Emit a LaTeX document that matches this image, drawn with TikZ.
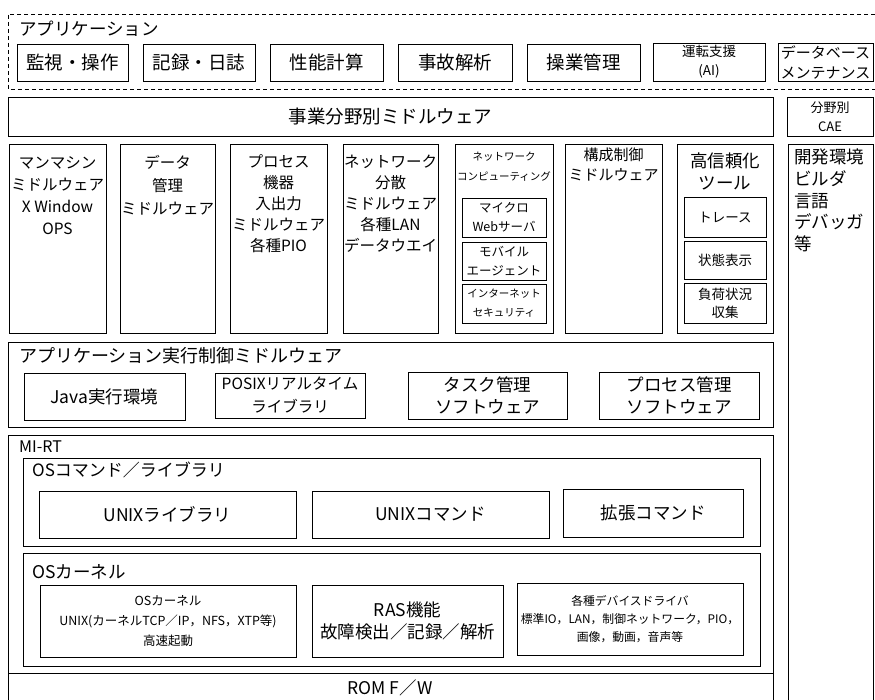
\documentclass[tikz,border=0pt]{standalone}
\usepackage{fontspec}
\setmainfont{Noto Sans CJK JP}
\newcommand\fs[2]{\fontsize{#1}{#2}\selectfont}
\newcommand\bx[6]{\node[box,minimum width={#4-#2},minimum height={#5-#3},font=#6] (#1) at ({(#2+#4)/2},{(#3+#5)/2})}
\begin{document}
\begin{tikzpicture}[x=1pt,y=-1pt,
 box/.style={draw=black,line width=0.7pt,inner sep=0pt,align=center},
 lbl/.style={inner sep=0pt,align=center},
 edge/.style={draw=black,line width=0.7pt},
 dsh/.style={draw=black,line width=0.7pt,dash pattern=on 4pt off 3pt}]
\useasboundingbox (0,0) rectangle (875,700);
\fill[white] (0,0) rectangle (875,700);

% application area (dashed)
\coordinate (d1) at (875,14); \coordinate (d2) at (8,14);
\coordinate (d3) at (8,89); \coordinate (d4) at (875,89);
\draw[dsh] (d1) -- (d2) -- (d3) -- (d4);
\node[lbl,anchor=west,font=\fs{17.5}{20}] (app) at (19,29) {アプリケーション};
\bx{a1}{17}{44}{128}{81}{\fs{18.5}{22}} {監視・操作};
\bx{a2}{143}{44}{255}{81}{\fs{18.5}{22}} {記録・日誌};
\bx{a3}{270}{44}{383}{81}{\fs{18.5}{22}} {性能計算};
\bx{a4}{398}{44}{512}{81}{\fs{18.5}{22}} {事故解析};
\bx{a5}{527}{44}{640}{81}{\fs{18.5}{22}} {操業管理};
\bx{a6}{653}{43}{765}{81}{\fs{13.5}{19}} {運転支援\\(AI)};
\bx{a7}{778}{43}{873}{81}{\fs{15}{20}} {データベース\\メンテナンス};

% sector middleware
\bx{biz}{8}{97}{773}{136}{\fs{18.5}{22}} {事業分野別ミドルウェア};
\bx{cae}{787}{97}{873}{136}{\fs{13}{19}} {分野別\\CAE};

% columns
\node[box,minimum width=97,minimum height=189] (c1) at (57.5,238.5) {};
\node[lbl,font=\fs{15.5}{22}] (c1t) at (57.5,195.5) {マンマシン\\ミドルウェア\\X Window\\OPS};
\node[box,minimum width=95,minimum height=189] (c2) at (167.5,238.5) {};
\node[lbl,font=\fs{15.5}{23}] (c2t) at (167.5,185) {データ\\管理\\ミドルウェア};
\node[box,minimum width=97,minimum height=189] (c3) at (278.5,238.5) {};
\node[lbl,font=\fs{15.5}{21}] (c3t) at (278.5,203.5) {プロセス\\機器\\入出力\\ミドルウェア\\各種PIO};
\node[box,minimum width=95,minimum height=189] (c4) at (390.5,238.5) {};
\node[lbl,font=\fs{15.5}{21}] (c4t) at (390.5,203.5) {ネットワーク\\分散\\ミドルウェア\\各種LAN\\データウエイ};
\node[box,minimum width=98,minimum height=189] (c5) at (504,238.5) {};
\node[lbl,font=\fs{10.5}{20}] (c5t) at (504,167) {ネットワーク\\コンピューティング};
\bx{n1}{462}{198}{546}{237}{\fs{12.5}{19}} {マイクロ\\Webサーバ};
\bx{n2}{462}{242}{546}{280}{\fs{12.5}{19}} {モバイル\\エージェント};
\bx{n3}{462}{284}{546}{323}{\fs{10.5}{19}} {インターネット\\セキュリティ};
\node[box,minimum width=97,minimum height=189] (c6) at (613.5,238.5) {};
\node[lbl,font=\fs{15}{20}] (c6t) at (613.5,165) {構成制御\\ミドルウェア};
\node[box,minimum width=96,minimum height=189] (c7) at (725,238.5) {};
\node[lbl,font=\fs{17.5}{22}] (c7t) at (725,171) {高信頼化\\ツール};
\bx{t1}{684}{197}{766}{237}{\fs{13.5}{19}} {トレース};
\bx{t2}{684}{241}{766}{279}{\fs{13.5}{19}} {状態表示};
\bx{t3}{684}{283}{766}{323}{\fs{13.5}{18}} {負荷状況\\収集};

% right column (development environment)
\coordinate (v1) at (788,700); \coordinate (v2) at (788,144);
\coordinate (v3) at (873,144); \coordinate (v4) at (873,700);
\draw[edge] (v1) -- (v2) -- (v3) -- (v4);
\node[lbl,align=left,anchor=west,font=\fs{17.5}{21.75}] (dev) at (794,200.5) {開発環境\\ビルダ\\言語\\デバッガ\\等};

% application execution control middleware
\bx{exe}{8}{342}{773}{427}{\fs{18}{22}} {};
\node[lbl,anchor=west,font=\fs{18}{22}] (exel) at (19,356) {アプリケーション実行制御ミドルウェア};
\bx{e1}{24}{373}{185}{420}{\fs{17.5}{22}} {Java実行環境};
\bx{e2}{215}{373}{365}{418}{\fs{15.5}{23}} {POSIXリアルタイム\\ライブラリ};
\bx{e3}{408}{372}{567}{419}{\fs{17.5}{22}} {タスク管理\\ソフトウェア};
\bx{e4}{599}{372}{759}{419}{\fs{17.5}{22}} {プロセス管理\\ソフトウェア};

% MI-RT
\bx{mirt}{8}{435}{773}{673}{\fs{15}{18}} {};
\node[lbl,anchor=west,font=\fs{16}{18}] (mirtl) at (19,447) {MI-RT};
\bx{osc}{23}{458}{760}{546}{\fs{17}{20}} {};
\node[lbl,anchor=west,font=\fs{17}{20}] (oscl) at (32,470) {OSコマンド／ライブラリ};
\bx{u1}{39}{491}{296}{538}{\fs{17.5}{22}} {UNIXライブラリ};
\bx{u2}{312}{491}{549}{538}{\fs{17.5}{22}} {UNIXコマンド};
\bx{u3}{563}{489}{743}{537}{\fs{17.5}{22}} {拡張コマンド};
\bx{osk}{23}{553}{760}{666}{\fs{17}{20}} {};
\node[lbl,anchor=west,font=\fs{17.5}{20}] (oskl) at (32,572) {OSカーネル};
\bx{k1}{40}{585}{296}{657}{\fs{12.5}{20}} {OSカーネル\\UNIX(カーネルTCP／IP，NFS，XTP等)\\高速起動};
\bx{k2}{312}{585}{503}{657}{\fs{17.5}{22}} {RAS機能\\故障検出／記録／解析};
\bx{k3}{517}{583}{743}{655}{\fs{11.8}{18}} {各種デバイスドライバ\\標準IO，LAN，制御ネットワーク，PIO，\\画像，動画，音声等};

% ROM F/W
\coordinate (w1) at (8,673); \coordinate (w2) at (8,700);
\coordinate (w3) at (773,673); \coordinate (w4) at (773,700);
\draw[edge] (w1) -- (w2);
\draw[edge] (w3) -- (w4);
\node[lbl,font=\fs{17.5}{20}] (rom) at (390,688) {ROM F／W};
\end{tikzpicture}
\end{document}
